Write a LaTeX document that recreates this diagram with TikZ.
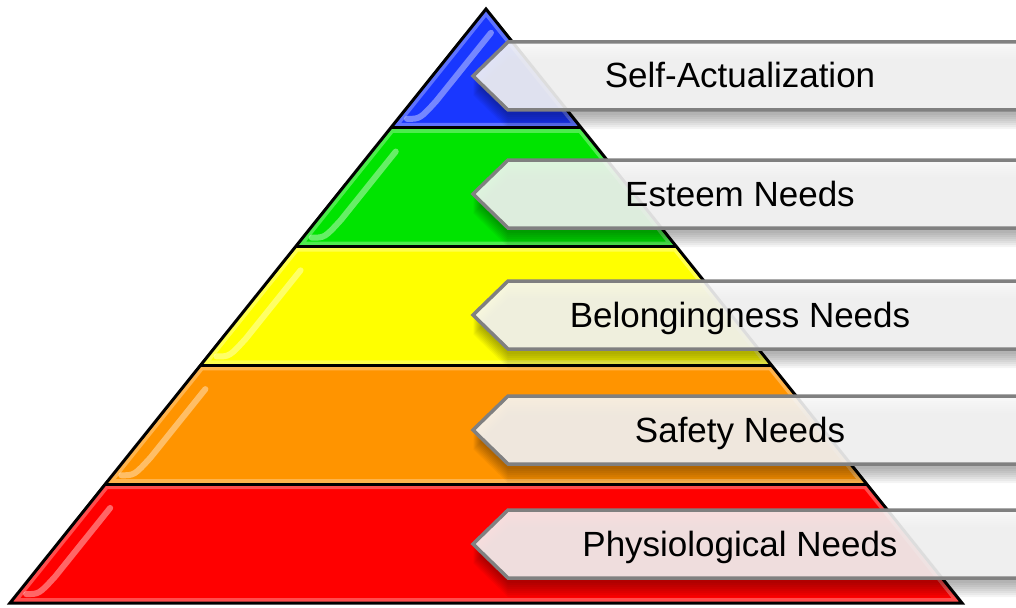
\documentclass[tikz,border=0pt]{standalone}
\usepackage{fontspec}
\setmainfont{Liberation Sans}
\usetikzlibrary{calc}
\definecolor{pblue}{RGB}{25,55,255}
\definecolor{pgreen}{RGB}{0,228,0}
\definecolor{pyellow}{RGB}{255,255,0}
\definecolor{porange}{RGB}{255,148,0}
\definecolor{pred}{RGB}{255,0,0}
\definecolor{cborder}{RGB}{128,128,128}
\definecolor{cfill}{RGB}{246,246,246}
\tikzset{
  outline/.style={black, line width=3pt, line join=miter},
  rim/.style={white, opacity=0.3, line width=10pt},
  glint/.style={white, opacity=0.4, line width=6pt, line cap=round},
  callout/.style={draw=cborder, line width=3.5pt, fill=cfill, fill opacity=0.9, line join=miter},
  cshadow/.style={fill=black, opacity=0.045},
  lbl/.style={font=\fontsize{35}{40}\selectfont, text=black, anchor=base, inner sep=0pt}
}
\begin{document}
\begin{tikzpicture}[x=1pt,y=-1pt]
\useasboundingbox (0,0) rectangle (1016,607);
\clip (0,0) rectangle (1016,607);
\coordinate (A) at (486,9);
\coordinate (BL) at (10,603);
\coordinate (BR) at (962,603);
% layers
\foreach \i/\col in {1/pblue,2/pgreen,3/pyellow,4/porange,5/pred} {
  \pgfmathsetmacro\fa{(\i-1)/5}
  \pgfmathsetmacro\fb{\i/5}
  \pgfmathsetmacro\ga{\fa+0.04}
  \pgfmathsetmacro\gb{\fb-0.045}
  \pgfmathsetmacro\gc{\fb-0.015}
  \fill[\col] ($(A)!\fa!(BL)$) -- ($(A)!\fb!(BL)$) -- ($(A)!\fb!(BR)$) -- ($(A)!\fa!(BR)$) -- cycle;
  \begin{scope}
    \clip ($(A)!\fa!(BL)$) -- ($(A)!\fb!(BL)$) -- ($(A)!\fb!(BR)$) -- ($(A)!\fa!(BR)$) -- cycle;
    \draw[rim] ($(A)!\fa!(BL)$) -- ($(A)!\fb!(BL)$) -- ($(A)!\fb!(BR)$) -- ($(A)!\fa!(BR)$) -- cycle;
  \end{scope}
  \draw[glint] ($(A)!\ga!(BL)+(24,0)$) -- ($(A)!\gb!(BL)+(24,0)$) .. controls ($(A)!\gc!(BL)+(22,0)$) .. ($(A)!\gc!(BL)+(9,0)$);
}
% outline and boundaries
\foreach \k in {1,2,3,4} {
  \pgfmathsetmacro\fk{\k/5}
  \draw[outline] ($(A)!\fk!(BL)$) -- ($(A)!\fk!(BR)$);
}
\draw[outline] (A) -- (BL) -- (BR) -- cycle;
% callouts
\foreach \c/\n/\t in {76/t1/Self-Actualization,194/t2/Esteem Needs,315/t3/Belongingness Needs,430/t4/Safety Needs,544/t5/Physiological Needs} {
  \foreach \s in {1,...,8} {
    \fill[cshadow] (473,\c+2*\s+3) -- (508,\c-34+2*\s+3) -- (1030,\c-34+2*\s+3) -- (1030,\c+34+2*\s+3) -- (508,\c+34+2*\s+3) -- cycle;
  }
  \path[callout] (473,\c) -- (508,\c-34) -- (1030,\c-34) -- (1030,\c+34) -- (508,\c+34) -- cycle;
  \node[lbl] (\n) at (740,\c+12) {\t};
}
\end{tikzpicture}
\end{document}
